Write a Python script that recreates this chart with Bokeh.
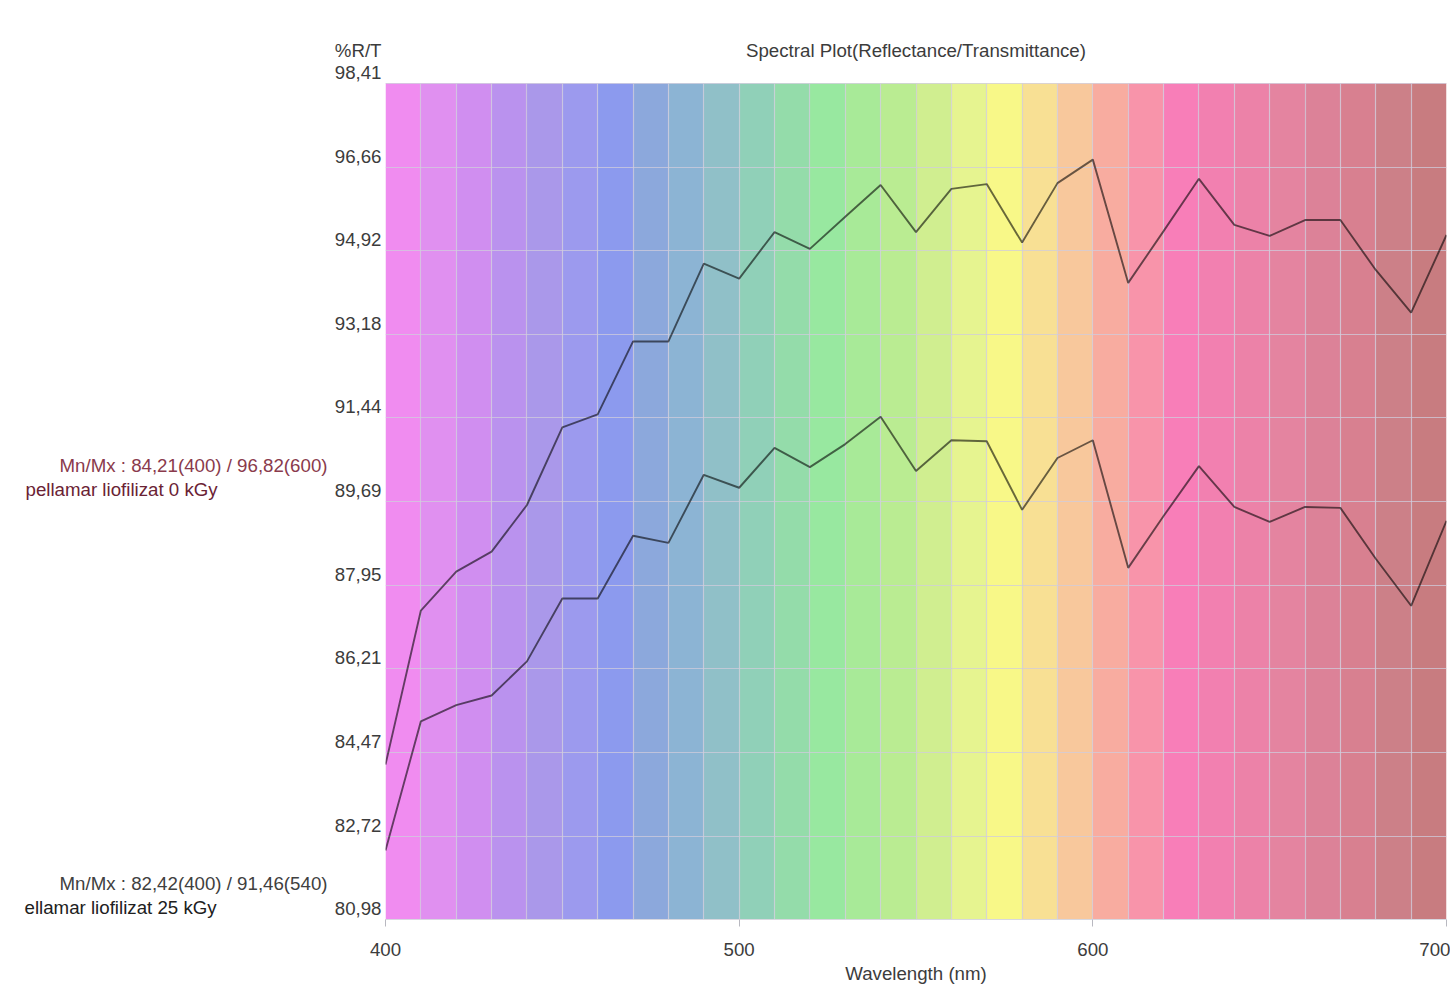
from bokeh.plotting import figure
from bokeh.layouts import row
from bokeh.models import Range1d, FixedTicker
from bokeh.core.properties import value
from bokeh.embed import file_html
from bokeh.resources import INLINE

# ---------------- data ----------------
wavelengths = list(range(400, 701, 10))
refl_0kgy = [84.21, 87.42, 88.23, 88.65, 89.62, 91.24, 91.51, 93.03, 93.03, 94.65,
             94.34, 95.31, 94.96, 95.63, 96.29, 95.31, 96.21, 96.31, 95.09, 96.33,
             96.82, 94.25, 95.33, 96.42, 95.46, 95.23, 95.56, 95.56, 94.52, 93.63, 95.25]
refl_25kgy = [82.42, 85.11, 85.45, 85.65, 86.36, 87.67, 87.67, 88.98, 88.83, 90.25,
              89.98, 90.81, 90.41, 90.89, 91.46, 90.33, 90.97, 90.95, 89.52, 90.60,
              90.97, 88.31, 89.39, 90.43, 89.58, 89.27, 89.58, 89.56, 88.50, 87.52, 89.29]

band_left = list(range(400, 700, 10))
band_colors = ["#f08cf0", "#e090f0", "#d08ef0", "#ba92ee", "#aa98ea", "#9c9aee",
               "#8c9aee", "#8ca8dc", "#8cb4d4", "#90c0c8", "#90d0b8", "#94dcaa",
               "#98e8a0", "#a8ea98", "#baec92", "#d0ee90", "#e6f490", "#f8f888",
               "#f8e094", "#f8c89c", "#f8aca0", "#f894aa", "#f87eb8", "#f280b0",
               "#ec82a8", "#e484a0", "#dc8298", "#d88090", "#cc8088", "#c87c80"]

y_ticks = [80.98, 82.72, 84.47, 86.21, 87.95, 89.69, 91.44, 93.18, 94.92, 96.66, 98.41]
y_tick_labels = ["80,98", "82,72", "84,47", "86,21", "87,95", "89,69",
                 "91,44", "93,18", "94,92", "96,66", "98,41"]
x_ticks = [400, 500, 600, 700]

title_text = "Spectral Plot(Reflectance/Transmittance)"
y_title = "%R/T"
x_title = "Wavelength (nm)"
series_names = ["pellamar liofilizat 0 kGy", "ellamar liofilizat 25 kGy"]
series_stats = ["Mn/Mx : 84,21(400) / 96,82(600)", "Mn/Mx : 82,42(400) / 91,46(540)"]

# ---------------- layout constants ----------------
FONT = "Liberation Sans"
FS = "18.7px"
TXT = "#3c3c3c"
W, H = 1450, 986
LEFT_W = 329            # width of the side panel holding the series notes
MAIN_BORDER_L = 56      # main chart border holding the y tick labels
FRAME_TOP = 36          # frame starts here (white strip holds title and %R/T)
BAND_TOP = 83           # the coloured area starts here
BOTTOM = 64
RIGHT = 4

ymin, ymax = y_ticks[0], y_ticks[-1]
per_px = (ymax - ymin) / (H - BOTTOM - BAND_TOP)
y_top = ymax + (BAND_TOP - FRAME_TOP) * per_px

# ---------------- main chart ----------------
p = figure(width=W - LEFT_W, height=H, output_backend="svg", toolbar_location=None,
           x_range=Range1d(400, 700), y_range=Range1d(ymin, y_top),
           min_border_left=MAIN_BORDER_L, min_border_right=RIGHT,
           min_border_top=FRAME_TOP, min_border_bottom=BOTTOM)
p.background_fill_color = "white"
p.border_fill_color = "white"
p.outline_line_color = None

band_right = [b + 10 for b in band_left]
q = p.quad(left=band_left, right=band_right, bottom=ymin, top=ymax,
           fill_color=band_colors, line_color=None)
q.level = "image"

GRID_COLOR = "#d0ccdc"
yg = p.ygrid[0]
yg.ticker = FixedTicker(ticks=y_ticks)
yg.grid_line_color = GRID_COLOR
yg.grid_line_alpha = 0.75
yg.grid_line_width = 1.2
xg = p.xgrid[0]
if "cross_bounds" in xg.properties():
    xg.ticker = FixedTicker(ticks=wavelengths)
    xg.cross_bounds = (ymin, ymax)
    xg.grid_line_color = GRID_COLOR
    xg.grid_line_alpha = 0.75
    xg.grid_line_width = 1.2
else:
    xg.visible = False
    vg = p.segment(x0=wavelengths, x1=wavelengths, y0=ymin, y1=ymax,
                   line_color=GRID_COLOR, line_alpha=0.75, line_width=1.2)
    vg.level = "underlay"

p.line(wavelengths, refl_0kgy, line_color="black", line_alpha=0.58, line_width=1.9)
p.line(wavelengths, refl_25kgy, line_color="black", line_alpha=0.58, line_width=1.9)

xa = p.xaxis[0]
xa.ticker = FixedTicker(ticks=x_ticks)
xa.axis_line_color = "#d8d8e0"
xa.major_tick_line_color = "#b8b8c0"
xa.major_tick_in = 0
xa.major_tick_out = 7
xa.minor_tick_line_color = None
xa.major_label_text_font = FONT
xa.major_label_text_font_size = FS
xa.major_label_text_color = TXT
xa.major_label_standoff = 16
xa.axis_label = x_title
xa.axis_label_text_font = FONT
xa.axis_label_text_font_size = FS
xa.axis_label_text_font_style = "normal"
xa.axis_label_text_color = TXT
xa.axis_label_standoff = 4

# y axis: labels sit 11 px above their grid lines; "%R/T" heads the column
label_pos = [t + 11 * per_px for t in y_ticks] + [ymax + 33 * per_px]
label_txt = y_tick_labels + [y_title]
ya = p.yaxis[0]
ya.ticker = FixedTicker(ticks=label_pos)
ya.major_label_overrides = dict(zip(label_pos, label_txt))
ya.axis_line_color = None
ya.major_tick_line_color = None
ya.minor_tick_line_color = None
ya.major_tick_out = 0
ya.major_tick_in = 0
ya.major_label_standoff = 4
ya.major_label_text_font = FONT
ya.major_label_text_font_size = FS
ya.major_label_text_color = TXT

common = dict(text_font=value(FONT), text_font_size=value(FS), text_baseline="middle")
p.text(x=[550], y=[ymax], text=[title_text], y_offset=-33, text_align="center",
       text_color=TXT, **common)

# ---------------- side panel: series notes ----------------
left = figure(width=LEFT_W, height=H, output_backend="svg", toolbar_location=None,
              x_range=Range1d(0, LEFT_W), y_range=Range1d(ymin, y_top),
              x_axis_location=None, y_axis_location=None,
              min_border_left=0, min_border_right=0,
              min_border_top=FRAME_TOP, min_border_bottom=BOTTOM)
left.outline_line_color = None
left.grid.visible = False
left.background_fill_color = "white"
left.border_fill_color = "white"

left.text(x=[327], y=[y_ticks[5]], text=[series_stats[0]], y_offset=-36,
          text_align="right", text_color="#8a3a4c", **common)
left.text(x=[25], y=[y_ticks[5]], text=[series_names[0]], y_offset=-12,
          text_align="left", text_color="#6a2234", **common)
left.text(x=[327], y=[y_ticks[0]], text=[series_stats[1]], y_offset=-36,
          text_align="right", text_color="#404040", **common)
left.text(x=[24], y=[y_ticks[0]], text=[series_names[1]], y_offset=-12,
          text_align="left", text_color="#202020", **common)

layout = row(left, p)
open("out.html", "w").write(file_html(layout, INLINE))
